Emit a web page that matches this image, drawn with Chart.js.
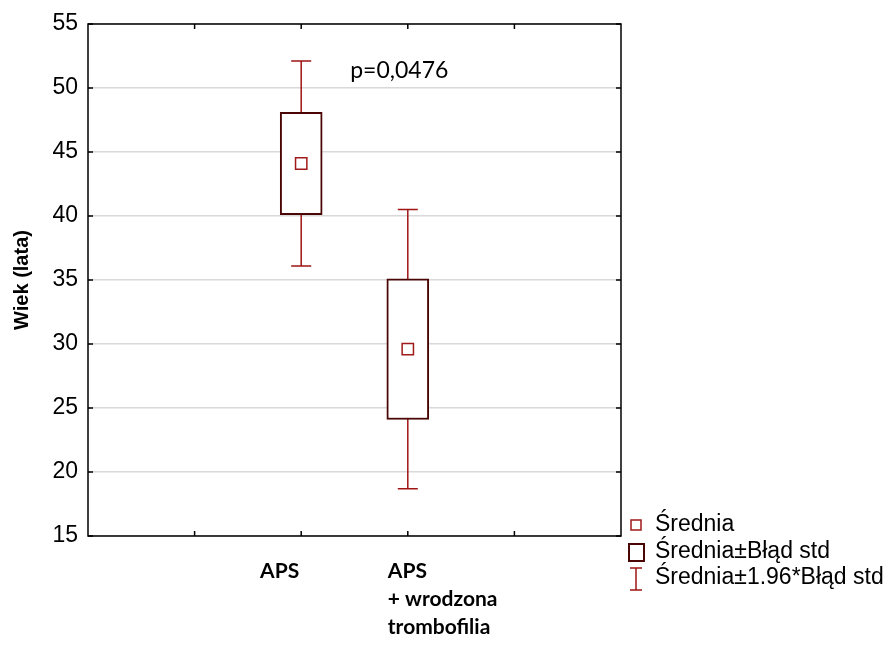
<!DOCTYPE html>
<html>
<head>
<meta charset="utf-8">
<script src="https://cdn.jsdelivr.net/npm/chart.js@4/dist/chart.umd.min.js"></script>
<style>
  html, body { margin: 0; padding: 0; background: #fff; }
</style>
</head>
<body>
<canvas id="myChart" width="891" height="646"></canvas>
<script>
// dane
const groupLabels = [['APS'], ['APS', '+ wrodzona', 'trombofilia']];
const groupPos = [2, 3];
const means = [44.1, 29.6];
const seLow = [40.1, 24.1];
const seHigh = [48.1, 35.1];
const ciLow = [36.1, 18.7];
const ciHigh = [52.1, 40.5];
const yMin = 15;
const yMax = 55;
const yStep = 5;
const xTicks = [1, 2, 3, 4];
const pText = 'p=0,0476';
const legendLabels = ['Średnia', 'Średnia±Błąd std', 'Średnia±1.96*Błąd std'];

const boxColor = '#4a0505';
const whiskerColor = '#a01515';
const meanColor = '#a01a1a';
const fontName = "'Liberation Sans', Arial, sans-serif";
const labelFont = "Lato, 'Liberation Sans', sans-serif";

// wąsy, ramka, opisy osi i legenda
const extras = {
  id: 'extras',
  beforeDatasetsDraw(chart) {
    const ctx = chart.ctx;
    const x = chart.scales.x;
    const y = chart.scales.y;
    ctx.save();
    ctx.strokeStyle = whiskerColor;
    ctx.lineWidth = 1.5;
    groupPos.forEach((pos, i) => {
      const px = x.getPixelForValue(pos);
      const top = y.getPixelForValue(ciHigh[i]);
      const bot = y.getPixelForValue(ciLow[i]);
      ctx.beginPath();
      ctx.moveTo(px, top);
      ctx.lineTo(px, bot);
      ctx.moveTo(px - 10, top);
      ctx.lineTo(px + 10, top);
      ctx.moveTo(px - 10, bot);
      ctx.lineTo(px + 10, bot);
      ctx.stroke();
    });
    ctx.restore();
  },
  afterDraw(chart) {
    const ctx = chart.ctx;
    const x = chart.scales.x;
    const y = chart.scales.y;
    const a = chart.chartArea;
    ctx.save();

    // ramka
    ctx.strokeStyle = '#000';
    ctx.lineWidth = 1.5;
    ctx.strokeRect(a.left, a.top, a.right - a.left, a.bottom - a.top);

    // kreski podziałki do środka
    ctx.beginPath();
    xTicks.forEach((t) => {
      const px = x.getPixelForValue(t);
      ctx.moveTo(px, a.bottom);
      ctx.lineTo(px, a.bottom - 5);
      ctx.moveTo(px, a.top);
      ctx.lineTo(px, a.top + 5);
    });
    for (let v = yMin; v <= yMax; v += yStep) {
      const py = y.getPixelForValue(v);
      ctx.moveTo(a.left, py);
      ctx.lineTo(a.left + 5, py);
      ctx.moveTo(a.right, py);
      ctx.lineTo(a.right - 5, py);
    }
    ctx.stroke();

    // etykiety kategorii
    ctx.fillStyle = '#000';
    ctx.font = 'bold 21px ' + labelFont;
    ctx.textBaseline = 'middle';
    groupLabels.forEach((lines, i) => {
      const px = x.getPixelForValue(groupPos[i]);
      lines.forEach((line, j) => {
        const py = a.bottom + 35 + j * 28;
        if (i === 0) {
          ctx.textAlign = 'right';
          ctx.fillText(line, px - 2, py);
        } else {
          ctx.textAlign = 'left';
          ctx.fillText(line, px - 20, py);
        }
      });
    });

    // wartość p
    ctx.font = '23px ' + labelFont;
    ctx.textAlign = 'center';
    ctx.fillText(pText, x.getPixelForValue(2.92), y.getPixelForValue(51.4));

    // legenda
    ctx.font = '23px ' + fontName;
    ctx.textAlign = 'left';
    const lx = a.right + 15;
    const ly = [525, 552, 578];
    ctx.lineWidth = 1.5;
    ctx.strokeStyle = meanColor;
    ctx.strokeRect(lx - 5, ly[0] - 5, 10, 10);
    ctx.strokeStyle = boxColor;
    ctx.lineWidth = 2;
    ctx.strokeRect(lx - 7, ly[1] - 8, 15, 17);
    ctx.strokeStyle = whiskerColor;
    ctx.lineWidth = 1.5;
    ctx.beginPath();
    ctx.moveTo(lx, ly[2] - 10);
    ctx.lineTo(lx, ly[2] + 12);
    ctx.moveTo(lx - 6, ly[2] - 10);
    ctx.lineTo(lx + 6, ly[2] - 10);
    ctx.moveTo(lx - 6, ly[2] + 12);
    ctx.lineTo(lx + 6, ly[2] + 12);
    ctx.stroke();
    legendLabels.forEach((t, i) => {
      ctx.fillText(t, lx + 19, ly[i]);
    });

    ctx.restore();
  }
};

let ctx = document.getElementById('myChart').getContext('2d');
let chart = new Chart(ctx, {
  type: 'bar',
  data: {
    datasets: [{
      type: 'bar',
      label: 'Średnia±Błąd std',
      data: groupPos.map((pos, i) => ({ x: pos, y: [seLow[i], seHigh[i]] })),
      backgroundColor: '#ffffff',
      borderColor: boxColor,
      borderWidth: 2,
      borderSkipped: false,
      barThickness: 42,
      order: 2
    }, {
      type: 'scatter',
      label: 'Średnia',
      data: groupPos.map((pos, i) => ({ x: pos, y: means[i] })),
      pointStyle: 'rect',
      pointRadius: 8,
      pointBorderWidth: 1.5,
      borderColor: meanColor,
      backgroundColor: '#ffffff',
      order: 1
    }]
  },
  options: {
    responsive: false,
    animation: false,
    layout: { padding: { top: 24, right: 270, left: 0, bottom: 0 } },
    plugins: {
      legend: { display: false },
      tooltip: { enabled: false }
    },
    scales: {
      x: {
        type: 'linear',
        min: 0,
        max: 5,
        offset: false,
        grid: { display: false },
        border: { display: false },
        ticks: { display: false },
        afterFit: (scale) => { scale.height = 110; }
      },
      y: {
        min: yMin,
        max: yMax,
        ticks: {
          stepSize: yStep,
          color: '#000',
          padding: 10,
          font: { family: fontName, size: 23 }
        },
        grid: { color: '#d9d9d9', lineWidth: 1.5, drawTicks: false },
        border: { display: false },
        title: {
          display: true,
          text: 'Wiek (lata)',
          color: '#000',
          font: { family: fontName, size: 20, weight: 'bold' },
          padding: { top: 10, bottom: 0 }
        },
        afterFit: (scale) => { scale.width = 88; }
      }
    }
  },
  plugins: [extras]
});
</script>
</body>
</html>
